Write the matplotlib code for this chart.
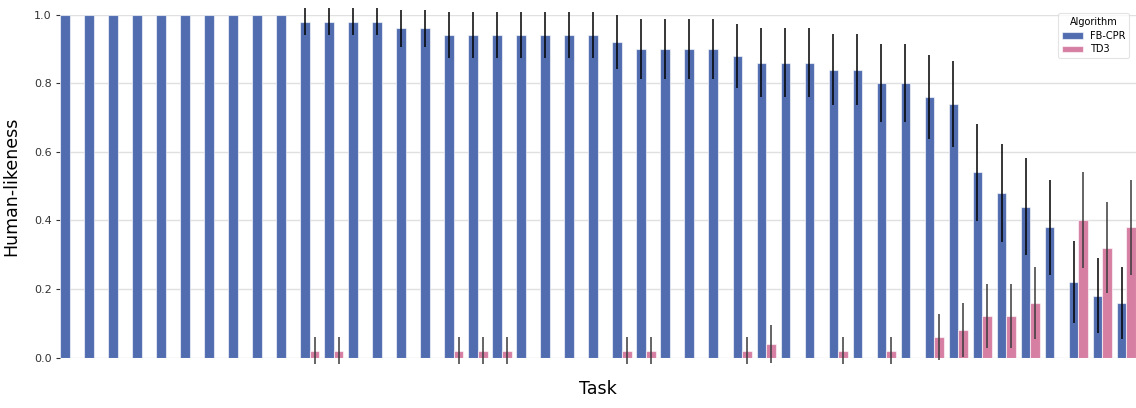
import matplotlib
matplotlib.use("Agg")
import matplotlib.pyplot as plt
import numpy as np

tasks = [f"task_{i}" for i in range(45)]

fbcpr = [1.0]*10 + [0.98]*4 + [0.96]*2 + [0.94]*7 + [0.92] + [0.90]*4 + [0.88] + \
        [0.86]*3 + [0.84]*2 + [0.80]*2 + [0.76, 0.74, 0.54, 0.48, 0.44, 0.38, 0.22, 0.18, 0.16]
fbcpr_err = [0.0]*10 + [0.04]*4 + [0.055]*2 + [0.067]*7 + [0.078] + [0.087]*4 + [0.093] + \
            [0.10]*3 + [0.104]*2 + [0.114]*2 + [0.122, 0.125, 0.142, 0.142, 0.142, 0.139, 0.119, 0.109, 0.105]

td3 = [0.0]*10 + [0.02, 0.02, 0.0, 0.0, 0.0, 0.0, 0.02, 0.02, 0.02, 0.0, 0.0, 0.0, 0.0,
       0.02, 0.02, 0.0, 0.0, 0.0, 0.02, 0.04, 0.0, 0.0, 0.02, 0.0, 0.02, 0.0,
       0.06, 0.08, 0.12, 0.12, 0.16, 0.0, 0.40, 0.32, 0.38]
td3_err = [0.0]*10 + [0.04, 0.04, 0.0, 0.0, 0.0, 0.0, 0.04, 0.04, 0.04, 0.0, 0.0, 0.0, 0.0,
           0.04, 0.04, 0.0, 0.0, 0.0, 0.04, 0.056, 0.0, 0.0, 0.04, 0.0, 0.04, 0.0,
           0.067, 0.078, 0.093, 0.093, 0.105, 0.0, 0.14, 0.133, 0.139]

algos = ["FB-CPR", "TD3"]
colors = ["#516db0", "#d67fa3"]

fig = plt.figure(figsize=(11.36, 4.08), dpi=100)
ax = fig.add_axes([60/1136, 1 - 357.5/408, 1 - 60/1136, (357.5 - 14.7)/408])

x = np.arange(len(tasks))
w = 0.4
series = [(fbcpr, fbcpr_err, "black"), (td3, td3_err, "#3a3a3a")]
for k, (vals, errs, ec) in enumerate(series):
    pos = x - w/2 + k*w
    ax.bar(pos, vals, width=w, color=colors[k], edgecolor=(1, 1, 1, 0.6),
           linewidth=0.8, label=algos[k], zorder=2)
    v = np.array(vals); e = np.array(errs)
    mask = e > 0
    ax.vlines(pos[mask], v[mask] - e[mask], v[mask] + e[mask], color=ec,
              linewidth=1.1, zorder=3, clip_on=False)

ax.set_xlim(-0.4, len(tasks) - 0.6)
ax.set_ylim(0, 1.0)
ax.set_yticks([0.0, 0.2, 0.4, 0.6, 0.8, 1.0])
ax.set_yticklabels(["0.0", "0.2", "0.4", "0.6", "0.8", "1.0"], fontsize=8, color="#333333")
ax.set_xticks([])
ax.tick_params(axis="y", length=3, width=0.8, color="#333333", pad=3)
ax.grid(axis="y", color="#e0e0e0", linewidth=1.0, zorder=0)
ax.set_axisbelow(True)
for s in ax.spines.values():
    s.set_visible(False)
ax.set_ylabel("Human-likeness", fontsize=12.5, labelpad=10)
ax.set_xlabel("Task", fontsize=12.5, labelpad=16)

leg = ax.legend(title="Algorithm", fontsize=7, title_fontsize=7, loc="upper right",
                bbox_to_anchor=(0.995, 1.01), frameon=True, handlelength=2.2,
                borderpad=0.35, labelspacing=0.4, handletextpad=0.7, borderaxespad=0.2)
leg.get_frame().set_edgecolor("#dddddd")
leg.get_frame().set_linewidth(0.8)

fig.savefig("out.png", dpi=100)
